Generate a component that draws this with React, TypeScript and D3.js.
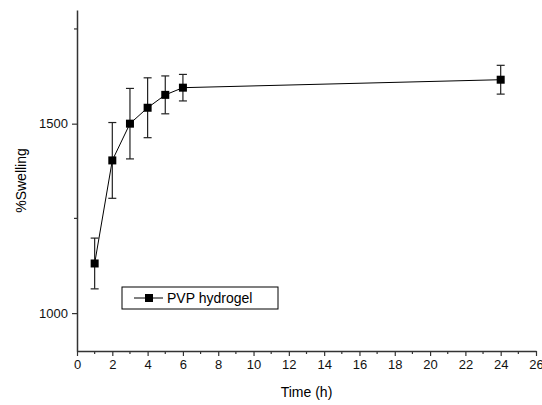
import React from "react";
import * as d3 from "d3";

const times = [1, 2, 3, 4, 5, 6, 24];
const swelling = [1131, 1403, 1500, 1542, 1576, 1595, 1616];
const errors = [67, 100, 93, 79, 50, 35, 38];
const xMajorTicks = [0, 2, 4, 6, 8, 10, 12, 14, 16, 18, 20, 22, 24, 26];
const xMinorTicks = [1, 3, 5, 7, 9, 11, 13, 15, 17, 19, 21, 23, 25];
const yMajorTicks = [1000, 1500];
const yMinorTicks = [1250, 1750];
const seriesName = "PVP hydrogel";

const App = () => {
  const svgRef = React.useRef<SVGSVGElement>(null);
  const width = 542;
  const height = 405;
  const left = 77;
  const right = 536;
  const top = 10;
  const bottom = 351;

  React.useEffect(() => {
    const svg = d3.select(svgRef.current);
    svg.selectAll("*").remove();
    const font = "Liberation Sans, Arial, sans-serif";

    const x = d3.scaleLinear().domain([0, 26]).range([left, right]);
    const y = d3.scaleLinear().domain([900, 1800]).range([bottom, top]);
    const axisColor = "#333";

    // x axis
    const gx = svg.append("g").attr("transform", `translate(0,${bottom})`);
    gx.call(
      d3.axisBottom(x).tickValues(xMajorTicks).tickSize(5).tickSizeOuter(0).tickPadding(4)
    );
    gx.append("g")
      .selectAll("line")
      .data(xMinorTicks)
      .enter()
      .append("line")
      .attr("x1", (d) => x(d))
      .attr("x2", (d) => x(d))
      .attr("y1", 0)
      .attr("y2", 3);

    // y axis
    const gy = svg.append("g").attr("transform", `translate(${left},0)`);
    gy.call(
      d3
        .axisLeft(y)
        .tickValues(yMajorTicks)
        .tickFormat(d3.format("d"))
        .tickSize(5)
        .tickSizeOuter(0)
        .tickPadding(4)
    );
    gy.append("g")
      .selectAll("line")
      .data(yMinorTicks)
      .enter()
      .append("line")
      .attr("x1", 0)
      .attr("x2", -3)
      .attr("y1", (d) => y(d))
      .attr("y2", (d) => y(d));

    [gx, gy].forEach((g) => {
      g.selectAll("path").attr("stroke", axisColor).attr("stroke-width", 1.5);
      g.selectAll("line").attr("stroke", axisColor).attr("stroke-width", 1.2);
      g.selectAll("text")
        .attr("font-family", font)
        .attr("font-size", 13)
        .attr("fill", "#111");
    });

    // axis titles
    svg
      .append("text")
      .attr("x", (left + right) / 2)
      .attr("y", 397)
      .attr("text-anchor", "middle")
      .attr("font-family", font)
      .attr("font-size", 14)
      .text("Time (h)");
    svg
      .append("text")
      .attr("transform", `translate(26,${(top + bottom) / 2}) rotate(-90)`)
      .attr("text-anchor", "middle")
      .attr("font-family", font)
      .attr("font-size", 14)
      .text("%Swelling");

    const pts = times.map((t, i) => ({ t, v: swelling[i], e: errors[i] }));

    // line
    svg
      .append("path")
      .datum(pts)
      .attr("fill", "none")
      .attr("stroke", "#000")
      .attr("stroke-width", 1)
      .attr(
        "d",
        d3
          .line<{ t: number; v: number }>()
          .x((d) => x(d.t))
          .y((d) => y(d.v))
      );

    // error bars
    const eb = svg.append("g").attr("stroke", "#222").attr("stroke-width", 1.2);
    pts.forEach((d) => {
      eb.append("line")
        .attr("x1", x(d.t))
        .attr("x2", x(d.t))
        .attr("y1", y(d.v + d.e))
        .attr("y2", y(d.v - d.e));
      [d.v + d.e, d.v - d.e].forEach((v) => {
        eb.append("line")
          .attr("x1", x(d.t) - 4)
          .attr("x2", x(d.t) + 4)
          .attr("y1", y(v))
          .attr("y2", y(v));
      });
    });

    // markers
    svg
      .selectAll("rect.pt")
      .data(pts)
      .enter()
      .append("rect")
      .attr("class", "pt")
      .attr("x", (d) => x(d.t) - 4)
      .attr("y", (d) => y(d.v) - 4)
      .attr("width", 8)
      .attr("height", 8)
      .attr("fill", "#000");

    // legend
    const lg = svg.append("g").attr("transform", "translate(122,287)");
    lg.append("rect")
      .attr("width", 156)
      .attr("height", 22)
      .attr("fill", "#fff")
      .attr("stroke", "#000")
      .attr("stroke-width", 1);
    lg.append("line")
      .attr("x1", 12)
      .attr("x2", 41)
      .attr("y1", 11)
      .attr("y2", 11)
      .attr("stroke", "#000");
    lg.append("rect")
      .attr("x", 23)
      .attr("y", 7)
      .attr("width", 8)
      .attr("height", 8)
      .attr("fill", "#000");
    lg.append("text")
      .attr("x", 45)
      .attr("y", 16)
      .attr("font-family", font)
      .attr("font-size", 14)
      .text(seriesName);
  }, []);

  return (
    <svg
      ref={svgRef}
      width={width}
      height={height}
      style={{ position: "absolute", left: 0, top: 0, background: "#fff" }}
    />
  );
};

export default App;
